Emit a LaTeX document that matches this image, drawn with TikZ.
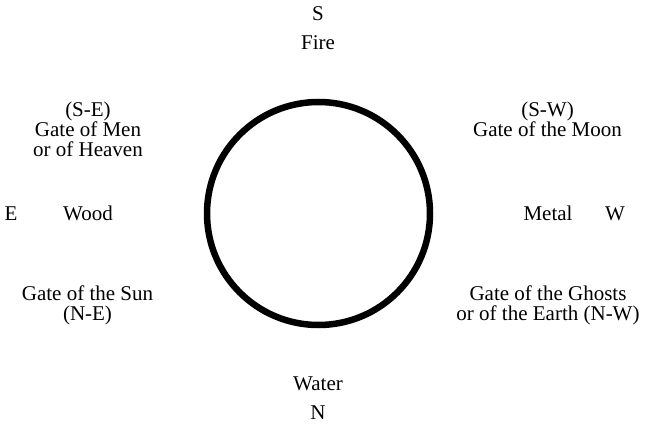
\documentclass[tikz,border=0pt]{standalone}
\usepackage{fontspec}
\setmainfont{Liberation Serif}
\lineskiplimit=-10pt
\begin{document}
\begin{tikzpicture}[x=1pt,y=-1pt,
  lbl/.style={font=\fontsize{21}{20}\selectfont, align=center, inner sep=0pt, anchor=center}]
\useasboundingbox (0,0) rectangle (648,425);
\node[draw=black, line width=6.5pt, circle, minimum size=223pt, inner sep=0pt] (c) at (318.5,213.5) {};
\node[lbl] (s) at (318,14) {S};
\node[lbl] (fire) at (318,43) {Fire};
\node[lbl] (se) at (88,129) {(S-E)\\Gate of Men\\or of Heaven};
\node[lbl] (sw) at (547.5,119) {(S-W)\\Gate of the Moon};
\node[lbl] (e) at (11,213.5) {E};
\node[lbl] (wood) at (88,213.5) {Wood};
\node[lbl] (metal) at (548,213.5) {Metal};
\node[lbl] (w) at (615,213.5) {W};
\node[lbl] (ne) at (87.5,305.5) {Gate of the Sun\\(N-E)};
\node[lbl] (nw) at (548,305) {Gate of the Ghosts\\or of the Earth (N-W)};
\node[lbl] (water) at (318,384) {Water};
\node[lbl] (n) at (318,413) {N};
\end{tikzpicture}
\end{document}
